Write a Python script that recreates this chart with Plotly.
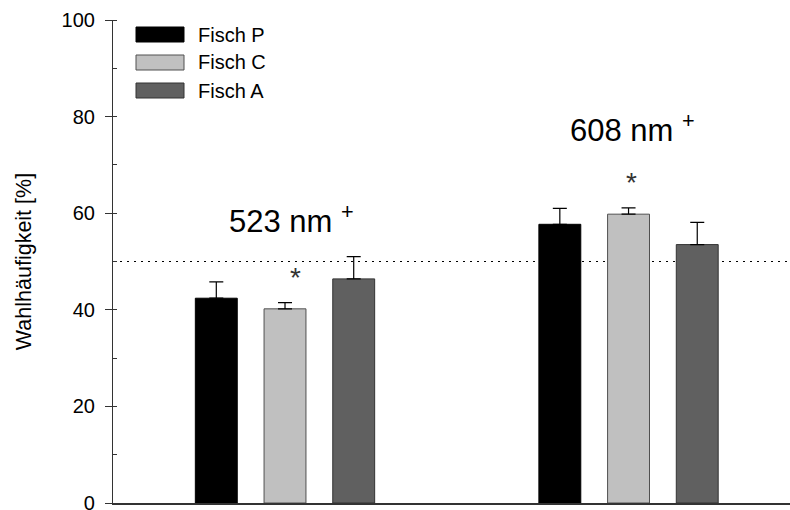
import plotly.graph_objects as go

# Wavelength groups and fish
wavelengths = ["523 nm", "608 nm"]
fish = ["Fisch P", "Fisch C", "Fisch A"]

# Choice frequency [%] per fish at each wavelength, with upper error
means_p = [42.4, 57.7]
means_c = [40.2, 59.8]
means_a = [46.4, 53.5]
err_p = [3.4, 3.3]
err_c = [1.3, 1.3]
err_a = [4.6, 4.6]

# Significance markers (*) placed over Fisch C
star_levels = [46.6, 66.3]

chance_level = 50

y_ticks = [0, 20, 40, 60, 80, 100]

fill_colors = ["#000000", "#c0c0c0", "#606060"]
edge_colors = ["#000000", "#505050", "#333333"]

FONT = "Liberation Sans, Arial, Helvetica, sans-serif"

means = [means_p, means_c, means_a]
errs = [err_p, err_c, err_a]
groups = list(range(len(wavelengths)))

fig = go.Figure()
for name, m, e, fc, ec in zip(fish, means, errs, fill_colors, edge_colors):
    fig.add_trace(go.Bar(
        x=groups, y=m, name=name,
        marker=dict(color=fc, line=dict(color=ec, width=1)),
        error_y=dict(type="data", symmetric=False, array=e,
                     arrayminus=[0] * len(e), color="#000000",
                     thickness=1.2, width=7),
        showlegend=False,
    ))

# Chance level (dotted, behind the bars)
fig.add_shape(type="line", xref="paper", yref="y", x0=0, x1=0.998,
              y0=chance_level, y1=chance_level, layer="below",
              line=dict(color="#000000", width=1.2, dash="2px,5px"))

# Group labels above the bars
label_y = [58.7, 77.6]
label_shift = [6, 4]
for g, txt, yy, xs in zip(groups, wavelengths, label_y, label_shift):
    fig.add_annotation(x=g, y=yy, xref="x", yref="y", text=txt + " <sup>+</sup>",
                       showarrow=False, xshift=xs, yanchor="middle",
                       font=dict(family=FONT, size=31, color="#000000"))

# Asterisks over Fisch C
star_shift = [10, 3]
for g, yy, xs in zip(groups, star_levels, star_shift):
    fig.add_annotation(x=g, y=yy, xref="x", yref="y", text="*",
                       showarrow=False, xshift=xs, yanchor="middle",
                       font=dict(family=FONT, size=28, color="#333333"))

# Legend: wide swatches with labels
W, H = 790, 510
ml, mr, mt, mb = 113, 0, 20, 7
pw, ph = W - ml - mr, H - mt - mb
def px_x(px):
    return (px - ml) / pw
def px_y(py):
    return 1 - (py - mt) / ph
row_y = [34.5, 62.5, 90.5]
for name, fc, ec, ry in zip(fish, fill_colors, edge_colors, row_y):
    fig.add_shape(type="rect", xref="paper", yref="paper",
                  x0=px_x(136), x1=px_x(184), y0=px_y(ry + 7.5), y1=px_y(ry - 7.5),
                  fillcolor=fc, line=dict(color=ec, width=1))
    fig.add_annotation(xref="paper", yref="paper", x=px_x(196), y=px_y(ry),
                       text=name, showarrow=False, xanchor="left", yanchor="middle",
                       font=dict(family=FONT, size=20, color="#000000"))

fig.update_layout(
    width=W, height=H,
    margin=dict(l=ml, r=mr, t=mt, b=mb, pad=0),
    paper_bgcolor="white", plot_bgcolor="white",
    barmode="group", bargap=0.4, bargroupgap=0.39,
    font=dict(family=FONT, size=18, color="#000000"),
    showlegend=False,
)
fig.update_xaxes(range=[-0.5007, 1.47], showline=True, linecolor="#333333",
                 linewidth=1.5, ticks="", showticklabels=False, showgrid=False,
                 zeroline=False)
fig.update_yaxes(range=[0, 100], tickvals=y_ticks, showline=True,
                 linecolor="#333333", linewidth=1.2, ticks="outside", ticklen=7,
                 tickcolor="#333333", tickwidth=1.2,
                 tickfont=dict(family=FONT, size=20, color="#000000"),
                 ticklabelstandoff=6, ticklabeloverflow="allow",
                 minor=dict(dtick=10, ticks="inside", ticklen=4,
                            tickcolor="#333333", tickwidth=1.2, showgrid=False),
                 showgrid=False, zeroline=False,
                 title=dict(text="Wahlhäufigkeit [%]", standoff=24,
                            font=dict(family=FONT, size=21.5, color="#000000")),
                 automargin=False)

fig.write_html("out.html")
